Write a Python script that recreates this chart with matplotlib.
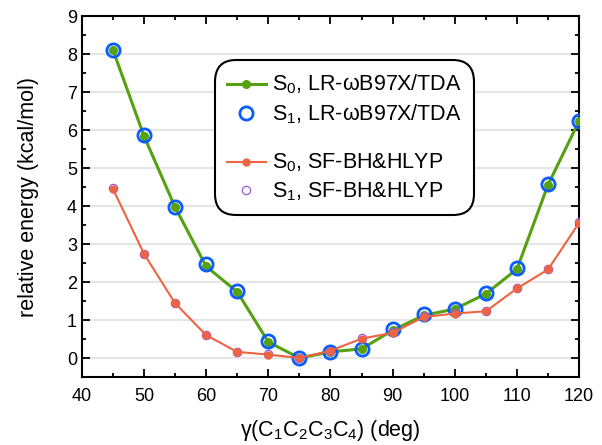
import matplotlib
matplotlib.use("Agg")
import matplotlib.pyplot as plt
from matplotlib.lines import Line2D
from matplotlib.ticker import MultipleLocator

plt.rcParams['font.family'] = ['Liberation Sans', 'DejaVu Sans']
plt.rcParams['mathtext.fontset'] = 'custom'
plt.rcParams['mathtext.rm'] = 'Liberation Sans'
plt.rcParams['mathtext.it'] = 'Liberation Sans'
plt.rcParams['mathtext.default'] = 'regular'

# dihedral angle (deg)
angle = [45, 50, 55, 60, 65, 70, 75, 80, 85, 90, 95, 100, 105, 110, 115, 120]

# relative energies (kcal/mol)
s0_lr = [8.12, 5.85, 3.98, 2.42, 1.75, 0.43, 0.01, 0.17, 0.25, 0.74, 1.13, 1.30, 1.70, 2.35, 4.57, 6.25]
s1_lr = [8.13, 5.87, 3.99, 2.49, 1.77, 0.47, 0.01, 0.17, 0.24, 0.78, 1.17, 1.31, 1.71, 2.38, 4.59, 6.25]
s0_sf = [4.46, 2.75, 1.45, 0.61, 0.17, 0.10, 0.01, 0.20, 0.52, 0.67, 1.09, 1.18, 1.24, 1.84, 2.34, 3.57]
s1_sf = [4.48, 2.76, 1.46, 0.62, 0.18, 0.12, 0.01, 0.20, 0.53, 0.70, 1.11, 1.20, 1.25, 1.85, 2.35, 3.59]

green = '#55a10f'
blue = '#0a5cff'
orange = '#ef6440'
purple = '#9a5ad8'

fig = plt.figure(figsize=(6.02, 4.45), dpi=100)
ax = fig.add_axes([0.136, 0.152, 0.826, 0.811])

ax.plot(angle, s0_lr, '-o', color=green, lw=2.2, ms=5.5, zorder=3)
ax.plot(angle, s1_lr, 'o', mfc='none', mec=blue, mew=2.0, ms=9.5, zorder=4)
ax.plot(angle, s1_sf, 'o', mfc='none', mec=purple, mew=0.9, ms=6, zorder=5)
ax.plot(angle, s0_sf, '-o', color=orange, lw=1.5, ms=5, zorder=6)

ax.set_xlim(40, 120)
ax.set_ylim(-0.5, 9)
ax.xaxis.set_major_locator(MultipleLocator(10))
ax.xaxis.set_minor_locator(MultipleLocator(5))
ax.yaxis.set_major_locator(MultipleLocator(1))
ax.yaxis.set_minor_locator(MultipleLocator(0.5))
ax.tick_params(which='both', direction='in', top=True, right=True, width=1.3, labelsize=13)
ax.tick_params(which='major', length=6)
ax.tick_params(which='minor', length=3)
ax.tick_params(axis='x', which='major', pad=8)
ax.tick_params(axis='y', which='major', pad=3.5)
for sp in ax.spines.values():
    sp.set_linewidth(1.5)
ax.yaxis.grid(True, color='#e6e6e6', lw=1.6, zorder=0)
ax.set_axisbelow(True)

ax.set_xlabel(r'γ(C$_1$C$_2$C$_3$C$_4$) (deg)', fontsize=15.5, labelpad=9)
ax.set_ylabel('relative energy (kcal/mol)', fontsize=15.5, labelpad=20)

handles = [
    Line2D([], [], color=green, lw=2.2, marker='o', ms=5.5),
    Line2D([], [], ls='none', marker='o', mfc='none', mec=blue, mew=2.0, ms=9.5),
    Line2D([], [], color='none'),
    Line2D([], [], color=orange, lw=1.5, marker='o', ms=5),
    Line2D([], [], ls='none', marker='o', mfc='none', mec=purple, mew=0.9, ms=6),
]
labels = [r'S$_0$, LR-ωB97X/TDA', r'S$_1$, LR-ωB97X/TDA', '',
          r'S$_0$, SF-BH&HLYP', r'S$_1$, SF-BH&HLYP']
leg = ax.legend(handles, labels, loc='upper left', bbox_to_anchor=(0.279, 0.862),
                borderaxespad=0, fontsize=15.5, handlelength=1.8, handleheight=0.59,
                handletextpad=0.3, labelspacing=0.27, borderpad=0.3, frameon=True,
                fancybox=True, framealpha=1)
# the blank spacer row should be shorter than a text row
leg.get_texts()[2].set_fontsize(1)
frame = leg.get_frame()
frame.set_edgecolor('black')
frame.set_linewidth(1.5)
frame.set_boxstyle('round,pad=0.28,rounding_size=1.0')

fig.savefig('out.png', dpi=100)
